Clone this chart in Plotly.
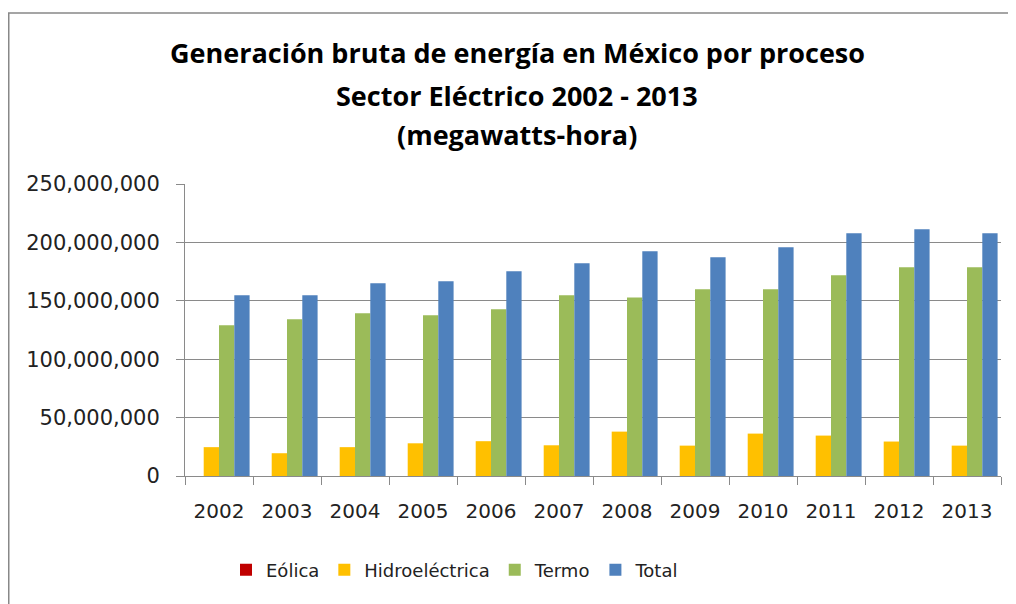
import plotly.graph_objects as go

years = ["2002", "2003", "2004", "2005", "2006", "2007", "2008", "2009", "2010", "2011", "2012", "2013"]
eolica = [0, 0, 0, 0, 0, 0, 0, 0, 0, 0, 0, 0]
hidro = [24.7e6, 19.5e6, 24.7e6, 28.0e6, 29.8e6, 26.3e6, 38.0e6, 26.0e6, 36.3e6, 34.6e6, 29.5e6, 26.0e6]
termo = [129.0e6, 134.1e6, 139.3e6, 137.6e6, 142.7e6, 154.7e6, 152.9e6, 159.8e6, 159.8e6, 171.8e6, 178.7e6, 178.7e6]
total = [154.8e6, 154.8e6, 165.0e6, 166.7e6, 175.3e6, 182.1e6, 192.4e6, 187.2e6, 195.8e6, 207.8e6, 211.2e6, 207.8e6]

series = [
    ("Eólica", eolica, "#C00000"),
    ("Hidroeléctrica", hidro, "#FFC000"),
    ("Termo", termo, "#9BBB59"),
    ("Total", total, "#4F81BD"),
]

fig = go.Figure()
for name, vals, color in series:
    fig.add_trace(go.Bar(x=years, y=vals, name=name, marker=dict(color=color, line=dict(width=0))))

OFF = 8  # page offset of the figure
W, H = 1016 - OFF, 604 - OFF
# plot area in page coordinates: x 185..1001, y 184..476
L, R, T, B = 185 - OFF, 1016 - 1001, 184 - OFF, 604 - 476
ph = H - T - B
pw = W - L - R

def py(ypage):
    return (476 - ypage) / ph

def px(xpage):
    return (xpage - 185) / pw

grey = "#8A8A8A"
fig.update_layout(
    width=W, height=H,
    margin=dict(l=L, r=R, t=T, b=B, autoexpand=False),
    paper_bgcolor="white", plot_bgcolor="white",
    barmode="group", bargap=0.1, bargroupgap=0,
    font=dict(family="DejaVu Sans", size=20, color="#222222"),
    showlegend=True,
    legend=dict(orientation="h", x=px(226), xanchor="left", y=py(570), yanchor="middle",
                font=dict(size=18, color="#222222"), itemwidth=30, traceorder="normal"),
    xaxis=dict(type="category", showline=True, linecolor=grey, linewidth=1,
               ticks="outside", tickson="boundaries", ticklen=8, tickcolor=grey,
               showgrid=False, tickfont=dict(size=20), ticklabelstandoff=17),
    yaxis=dict(range=[0, 250e6], dtick=50e6, tickformat=",d", showline=True, linecolor=grey,
               linewidth=1, ticks="outside", ticklen=8, tickcolor=grey, showgrid=True,
               gridcolor=grey, gridwidth=1, zeroline=False, tickfont=dict(size=21),
               ticklabelstandoff=12),
)

title_lines = [
    ("Generación bruta de energía en México por proceso", 52),
    ("Sector Eléctrico 2002 - 2013", 95),
    ("(megawatts-hora)", 134),
]
for text, ypage in title_lines:
    fig.add_annotation(text="<b>" + text + "</b>", xref="paper", yref="paper",
                       x=px(517), y=py(ypage), xanchor="center", yanchor="middle",
                       showarrow=False, font=dict(family="Open Sans", size=27, color="#000000"))

fig.add_shape(type="rect", xref="paper", yref="paper",
              x0=px(OFF + 0.75), x1=px(1040), y0=py(640), y1=py(13),
              line=dict(color="#888888", width=1.5), fillcolor="rgba(0,0,0,0)", layer="below")

fig.write_html("out.html")
